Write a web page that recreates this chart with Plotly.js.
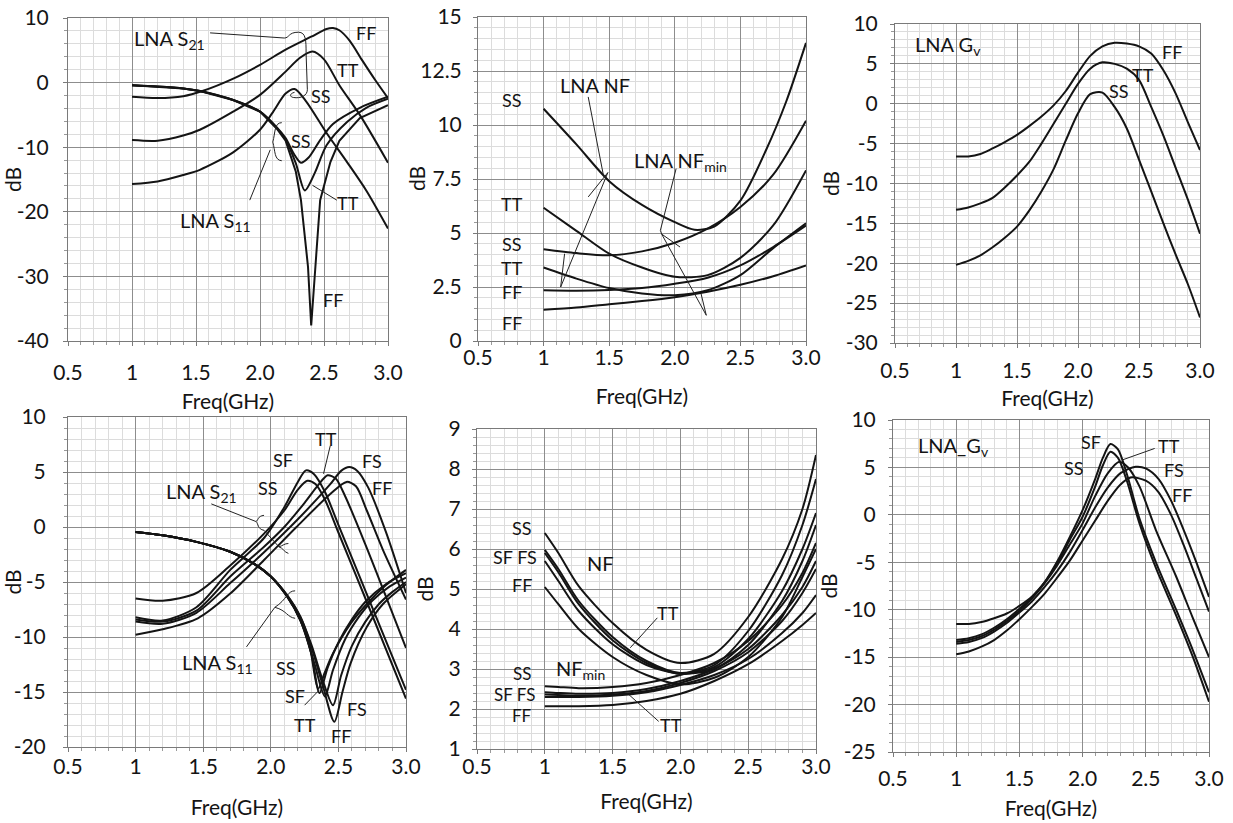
<!DOCTYPE html>
<html><head><meta charset="utf-8">
<script src="https://cdn.plot.ly/plotly-3.0.1.min.js"></script>
<style>html,body{margin:0;padding:0;background:#fff}#chart{width:1233px;height:823px}</style>
</head><body><div id="chart"></div>
<script>
// ---------- tick labels ----------
const xTickVals = [0.5, 1, 1.5, 2, 2.5, 3];
const xTickText = ['0.5', '1', '1.5', '2.0', '2.5', '3.0'];
const y1Ticks = [-40, -30, -20, -10, 0, 10];
const y1Text = ['-40', '-30', '-20', '-10', '0', '10'];
const y2Ticks = [0, 2.5, 5, 7.5, 10, 12.5, 15];
const y2Text = ['0', '2.5', '5', '7.5', '10', '12.5', '15'];
const y3Ticks = [-30, -25, -20, -15, -10, -5, 0, 5, 10];
const y3Text = ['-30', '-25', '-20', '-15', '-10', '-5', '0', '5', '10'];
const y4Ticks = [-20, -15, -10, -5, 0, 5, 10];
const y4Text = ['-20', '-15', '-10', '-5', '0', '5', '10'];
const y5Ticks = [1, 2, 3, 4, 5, 6, 7, 8, 9];
const y5Text = ['1', '2', '3', '4', '5', '6', '7', '8', '9'];
const y6Ticks = [-25, -20, -15, -10, -5, 0, 5, 10];
const y6Text = ['-25', '-20', '-15', '-10', '-5', '0', '5', '10'];

// ---------- panel 1 : LNA S21 / S11 (SS, TT, FF) ----------
const p1S21FF_f = [1.0, 1.2, 1.4, 1.55, 1.8, 2.0, 2.2, 2.4, 2.52, 2.57, 2.62, 2.7, 2.8, 2.9, 3.0];
const p1S21FF   = [-2.2, -2.4, -2.1, -1.3, 0.7, 2.75, 5.1, 7.1, 8.3, 8.45, 8.1, 6.5, 3.4, 0.4, -2.4];
const p1S21TT_f = [1.0, 1.2, 1.4, 1.53, 1.79, 2.0, 2.2, 2.31, 2.41, 2.5, 2.62, 2.78, 3.0];
const p1S21TT   = [-8.9, -9.0, -8.2, -7.3, -4.5, -1.9, 1.7, 3.8, 4.8, 3.6, -0.4, -5.0, -12.4];
const p1S21SS_f = [1.0, 1.2, 1.4, 1.53, 1.79, 2.0, 2.1, 2.2, 2.27, 2.36, 2.52, 2.68, 2.83, 3.0];
const p1S21SS   = [-15.7, -15.3, -14.3, -13.5, -10.8, -7.3, -4.6, -1.7, -1.0, -2.9, -7.8, -12.3, -16.7, -22.6];
const p1S11SS_f = [1.0, 1.2, 1.4, 1.53, 1.79, 2.0, 2.13, 2.2, 2.27, 2.32, 2.38, 2.47, 2.57, 2.78, 3.0];
const p1S11SS   = [-0.4, -0.6, -0.9, -1.3, -2.7, -4.5, -6.9, -8.6, -11.2, -12.4, -11.6, -8.9, -6.4, -3.9, -2.2];
const p1S11TT_f = [1.0, 1.2, 1.4, 1.53, 1.79, 2.0, 2.13, 2.2, 2.28, 2.35, 2.43, 2.52, 2.68, 2.83, 3.0];
const p1S11TT   = [-0.4, -0.6, -0.9, -1.3, -2.7, -4.5, -7.0, -8.8, -12.5, -16.7, -13.9, -9.7, -6.1, -3.9, -2.5];
const p1S11FF_f = [1.0, 1.2, 1.4, 1.53, 1.79, 2.0, 2.13, 2.2, 2.28, 2.32, 2.375, 2.4, 2.435, 2.47, 2.55, 2.62, 2.78, 3.0];
const p1S11FF   = [-0.4, -0.6, -0.9, -1.3, -2.7, -4.5, -7.1, -9.0, -13.8, -18.2, -28.5, -37.6, -28.5, -18.2, -12.3, -9.0, -5.5, -3.5];

// ---------- panel 2 : LNA NF / NFmin ----------
const p2F = [1.0, 1.25, 1.5, 1.75, 2.0, 2.25, 2.5, 2.75, 3.0];
const p2NFSS_f = [1.0, 1.25, 1.5, 1.75, 2.0, 2.15, 2.3, 2.5, 2.7, 2.85, 3.0];
const p2NFSS   = [10.75, 9.1, 7.4, 6.3, 5.5, 5.15, 5.3, 6.5, 8.9, 11.1, 13.8];
const p2NFTT     = [6.17, 5.1, 4.04, 3.4, 2.97, 3.05, 3.85, 5.35, 7.9];
const p2NFminSS  = [4.25, 4.07, 3.97, 4.15, 4.55, 5.2, 6.2, 7.7, 10.2];
const p2TTlow    = [3.4, 2.89, 2.45, 2.2, 2.12, 2.35, 3.05, 4.3, 5.45];
const p2FFhigh   = [2.35, 2.33, 2.36, 2.45, 2.65, 2.93, 3.5, 4.35, 5.35];
const p2FFlow    = [1.45, 1.55, 1.7, 1.85, 2.03, 2.28, 2.6, 3.0, 3.5];

// ---------- panel 3 : LNA Gv (SS, TT, FF) ----------
const p3F  = [1.0, 1.1, 1.2, 1.3, 1.4, 1.5, 1.6, 1.7, 1.8, 1.9, 2.0, 2.1, 2.2, 2.3, 2.4, 2.5, 2.6, 2.7, 2.8, 2.9, 3.0];
const p3FF = [-6.6, -6.6, -6.3, -5.6, -4.8, -3.9, -2.8, -1.6, -0.2, 1.6, 3.9, 6.0, 7.2, 7.65, 7.55, 7.2, 6.3, 4.2, 1.3, -2.3, -5.8];
const p3TT = [-13.3, -13.0, -12.5, -11.8, -10.5, -9.0, -7.3, -5.0, -2.5, 0.0, 2.5, 4.4, 5.2, 5.0, 4.4, 3.0, -0.4, -4.0, -8.0, -12.0, -16.3];
const p3SS = [-20.2, -19.7, -19.0, -18.0, -16.8, -15.4, -13.4, -11.0, -8.2, -4.6, -1.2, 1.2, 1.4, -0.4, -3.1, -7.0, -11.0, -15.0, -18.9, -22.6, -26.8];

// ---------- panel 4 : LNA S21 / S11 (five corners) ----------
const p4S21SS_f = [1.0, 1.2, 1.45, 1.7, 1.95, 2.1, 2.2, 2.27, 2.33, 2.4, 2.5, 2.7, 3.0];
const p4S21SS   = [-6.5, -6.7, -6.0, -3.5, -0.6, 1.5, 3.4, 4.2, 3.9, 2.5, -0.5, -6.5, -15.6];
const p4S21SF_f = [1.0, 1.2, 1.45, 1.7, 1.95, 2.1, 2.2, 2.26, 2.32, 2.4, 2.5, 2.7, 3.0];
const p4S21SF   = [-8.2, -8.5, -7.3, -3.9, -1.0, 1.8, 4.1, 5.15, 4.8, 3.2, 0.2, -5.8, -14.8];
const p4S21TT_f = [1.0, 1.2, 1.45, 1.7, 1.95, 2.1, 2.25, 2.35, 2.42, 2.48, 2.55, 2.7, 3.0];
const p4S21TT   = [-8.4, -8.6, -7.6, -4.5, -1.8, 0.0, 2.2, 3.8, 4.7, 4.4, 2.8, -1.6, -11.0];
const p4S21FS_f = [1.0, 1.2, 1.45, 1.7, 1.95, 2.2, 2.44, 2.52, 2.58, 2.64, 2.72, 2.85, 3.0];
const p4S21FS   = [-8.6, -8.8, -7.8, -5.1, -2.3, 0.7, 3.9, 5.1, 5.45, 5.1, 3.6, -0.4, -6.0];
const p4S21FF_f = [1.0, 1.2, 1.46, 1.7, 1.95, 2.19, 2.44, 2.56, 2.63, 2.71, 2.83, 3.0];
const p4S21FF   = [-9.8, -9.3, -8.3, -6.05, -3.0, 0.0, 3.0, 4.1, 3.7, 1.5, -2.1, -6.6];
const p4S11SS_f = [1.0, 1.2, 1.45, 1.7, 1.87, 2.0, 2.12, 2.22, 2.29, 2.35, 2.4, 2.46, 2.59, 2.71, 2.85, 3.0];
const p4S11SS   = [-0.45, -0.75, -1.35, -2.25, -3.3, -4.5, -6.3, -8.5, -11.0, -14.7, -13.2, -11.5, -8.8, -7.0, -5.3, -3.9];
const p4S11SF_f = [1.0, 1.2, 1.45, 1.7, 1.87, 2.0, 2.12, 2.22, 2.3, 2.36, 2.42, 2.5, 2.6, 2.7, 2.85, 3.0];
const p4S11SF   = [-0.45, -0.75, -1.35, -2.25, -3.3, -4.5, -6.3, -8.5, -11.5, -15.1, -12.8, -10.5, -8.4, -6.8, -5.2, -4.2];
const p4S11TT_f = [1.0, 1.2, 1.45, 1.7, 1.87, 2.0, 2.12, 2.22, 2.32, 2.4, 2.46, 2.55, 2.65, 2.75, 2.88, 3.0];
const p4S11TT   = [-0.45, -0.75, -1.35, -2.25, -3.3, -4.5, -6.3, -8.5, -12.3, -15.4, -13.0, -10.2, -8.2, -6.7, -5.4, -4.6];
const p4S11FS_f = [1.0, 1.2, 1.45, 1.7, 1.87, 2.0, 2.12, 2.22, 2.3, 2.38, 2.46, 2.52, 2.6, 2.7, 2.8, 2.9, 3.0];
const p4S11FS   = [-0.45, -0.75, -1.35, -2.25, -3.3, -4.5, -6.2, -8.2, -10.7, -13.8, -16.2, -13.5, -10.8, -8.6, -7.0, -5.9, -5.0];
const p4S11FF_f = [1.0, 1.2, 1.45, 1.7, 1.87, 2.0, 2.12, 2.22, 2.3, 2.38, 2.47, 2.53, 2.59, 2.71, 2.83, 3.0];
const p4S11FF   = [-0.45, -0.75, -1.35, -2.25, -3.3, -4.5, -6.2, -8.2, -10.9, -14.2, -17.7, -15.0, -12.4, -9.1, -7.0, -5.2];

// ---------- panel 5 : NF / NFmin (five corners) ----------
const p5F = [1.0, 1.1, 1.25, 1.5, 1.75, 2.0, 2.25, 2.5, 2.75, 2.9, 3.0];
const p5NFSS = [6.4, 5.9, 5.07, 4.15, 3.48, 3.15, 3.38, 4.3, 5.75, 7.0, 8.35];
const p5NFSF = [5.98, 5.5, 4.7, 3.8, 3.2, 2.9, 3.1, 3.95, 5.35, 6.6, 7.75];
const p5NFFS = [5.9, 5.42, 4.62, 3.72, 3.15, 2.88, 3.05, 3.75, 4.95, 6.0, 6.9];
const p5NFTT = [5.7, 5.2, 4.45, 3.62, 3.1, 2.88, 3.0, 3.6, 4.7, 5.7, 6.6];
const p5NFFF = [5.05, 4.62, 4.0, 3.3, 2.85, 2.62, 2.78, 3.3, 4.3, 5.3, 6.0];
const p5NminSS = [2.57, 2.55, 2.52, 2.55, 2.65, 2.85, 3.15, 3.7, 4.6, 5.4, 6.15];
const p5NminSF = [2.42, 2.4, 2.38, 2.4, 2.5, 2.7, 3.0, 3.5, 4.35, 5.05, 5.7];
const p5NminFS = [2.36, 2.35, 2.33, 2.36, 2.45, 2.65, 2.95, 3.42, 4.2, 4.9, 5.5];
const p5NminTT = [2.3, 2.3, 2.3, 2.33, 2.42, 2.6, 2.85, 3.25, 3.9, 4.4, 4.85];
const p5NminFF = [2.07, 2.07, 2.07, 2.1, 2.2, 2.38, 2.7, 3.12, 3.7, 4.1, 4.4];

// ---------- panel 6 : LNA_Gv (five corners) ----------
const p6SS_f = [1.0, 1.1, 1.2, 1.3, 1.4, 1.5, 1.6, 1.7, 1.8, 1.9, 2.0, 2.1, 2.16, 2.22, 2.28, 2.35, 2.45, 2.58, 2.74, 2.87, 3.0];
const p6SS   = [-11.5, -11.5, -11.3, -10.9, -10.4, -9.6, -8.6, -7.1, -5.1, -2.6, -0.2, 3.0, 5.2, 6.65, 6.0, 3.6, -0.9, -5.6, -10.6, -14.9, -19.7];
const p6SF   = [-13.2, -13.0, -12.6, -11.9, -11.0, -9.9, -8.7, -7.1, -4.9, -2.3, 0.5, 3.8, 6.0, 7.46, 6.9, 4.3, -0.4, -5.0, -10.0, -14.2, -18.7];
const p6TT_f = [1.0, 1.1, 1.2, 1.3, 1.4, 1.5, 1.6, 1.7, 1.8, 1.9, 2.0, 2.1, 2.2, 2.29, 2.36, 2.45, 2.58, 2.74, 2.87, 3.0];
const p6TT   = [-13.4, -13.2, -12.8, -12.1, -11.2, -10.1, -8.8, -7.2, -5.3, -3.1, -0.9, 2.0, 4.4, 5.6, 5.0, 3.0, -1.6, -6.5, -10.8, -15.0];
const p6FS_f = [1.0, 1.1, 1.2, 1.3, 1.4, 1.5, 1.6, 1.7, 1.8, 1.9, 2.0, 2.1, 2.2, 2.3, 2.42, 2.5, 2.6, 2.7, 2.8, 2.9, 3.0];
const p6FS   = [-13.6, -13.4, -13.0, -12.3, -11.4, -10.3, -9.1, -7.6, -5.9, -3.9, -1.6, 0.8, 2.9, 4.4, 5.07, 4.9, 3.8, 1.5, -1.6, -5.0, -8.65];
const p6FF_f = [1.0, 1.1, 1.2, 1.3, 1.4, 1.5, 1.6, 1.7, 1.8, 1.9, 2.0, 2.1, 2.2, 2.3, 2.38, 2.5, 2.6, 2.7, 2.8, 2.9, 3.0];
const p6FF   = [-14.7, -14.4, -13.9, -13.2, -12.2, -11.0, -9.7, -8.3, -6.6, -4.8, -2.7, -0.6, 1.5, 3.2, 3.94, 3.6, 2.4, 0.0, -3.2, -6.7, -10.2];

// ---------- building the figure ----------
const W = 1233, H = 823;
const FONT = 'Lato, "Open Sans", "DejaVu Sans", sans-serif';
const INK = '#141414';

function curve(x, y, n, shape) {
  return {type: 'scatter', mode: 'lines', x: x, y: y, xaxis: 'x' + (n > 1 ? n : ''), yaxis: 'y' + (n > 1 ? n : ''),
    line: {color: INK, width: 2, shape: shape || 'spline', smoothing: 0.8}, hoverinfo: 'skip', showlegend: false};
}

const traces = [
  curve(p1S21FF_f, p1S21FF, 1), curve(p1S21TT_f, p1S21TT, 1), curve(p1S21SS_f, p1S21SS, 1),
  curve(p1S11SS_f, p1S11SS, 1), curve(p1S11TT_f, p1S11TT, 1), curve(p1S11FF_f, p1S11FF, 1, 'linear'),
  curve(p2NFSS_f, p2NFSS, 2), curve(p2F, p2NFTT, 2), curve(p2F, p2NFminSS, 2),
  curve(p2F, p2TTlow, 2), curve(p2F, p2FFhigh, 2), curve(p2F, p2FFlow, 2),
  curve(p3F, p3FF, 3), curve(p3F, p3TT, 3), curve(p3F, p3SS, 3),
  curve(p4S21SS_f, p4S21SS, 4), curve(p4S21SF_f, p4S21SF, 4), curve(p4S21TT_f, p4S21TT, 4),
  curve(p4S21FS_f, p4S21FS, 4), curve(p4S21FF_f, p4S21FF, 4),
  curve(p4S11SS_f, p4S11SS, 4), curve(p4S11SF_f, p4S11SF, 4), curve(p4S11TT_f, p4S11TT, 4),
  curve(p4S11FS_f, p4S11FS, 4), curve(p4S11FF_f, p4S11FF, 4),
  curve(p5F, p5NFSS, 5), curve(p5F, p5NFSF, 5), curve(p5F, p5NFFS, 5), curve(p5F, p5NFTT, 5), curve(p5F, p5NFFF, 5),
  curve(p5F, p5NminSS, 5), curve(p5F, p5NminSF, 5), curve(p5F, p5NminFS, 5), curve(p5F, p5NminTT, 5), curve(p5F, p5NminFF, 5),
  curve(p6SS_f, p6SS, 6), curve(p6SS_f, p6SF, 6), curve(p6TT_f, p6TT, 6), curve(p6FS_f, p6FS, 6), curve(p6FF_f, p6FF, 6)
];

// panel boxes in pixels [left, right, top, bottom]
const boxes = [[68, 388, 18, 341], [478, 806, 17, 341], [895, 1200, 24, 343],
               [68, 406, 417, 747], [477, 816, 429, 749], [893, 1209, 420, 752]];
const yCfg = [
  {r: [-40, 10], tv: y1Ticks, tt: y1Text, minor: 2,   ls: 10, ts: 0, title: 'dB'},
  {r: [0, 15],   tv: y2Ticks, tt: y2Text, minor: 0.5, ls: 7,  ts: 0, title: ''},
  {r: [-30, 10], tv: y3Ticks, tt: y3Text, minor: 1,   ls: 8,  ts: 0, title: 'dB'},
  {r: [-20, 10], tv: y4Ticks, tt: y4Text, minor: 1,   ls: 13, ts: 0, title: 'dB'},
  {r: [1, 9],    tv: y5Ticks, tt: y5Text, minor: 0.2, ls: 7,  ts: 9, title: 'dB'},
  {r: [-25, 10], tv: y6Ticks, tt: y6Text, minor: 1,   ls: 8,  ts: 0, title: 'dB'}
];
const xCfg = [{ls: 9, ts: 11}, {ls: -6, ts: 21}, {ls: 5, ts: 10}, {ls: -3, ts: 23}, {ls: -5, ts: 17}, {ls: 4, ts: 12}];

const layout = {
  width: W, height: H, margin: {l: 0, r: 0, t: 0, b: 0, pad: 0},
  paper_bgcolor: '#ffffff', plot_bgcolor: '#ffffff', showlegend: false,
  font: {family: FONT, color: INK, size: 18}, annotations: [], shapes: []
};

boxes.forEach(function (b, i) {
  const n = i + 1, s = n > 1 ? n : '';
  const common = {
    showgrid: true, gridcolor: '#8d8d8d', gridwidth: 1, zeroline: false,
    showline: true, mirror: true, linecolor: '#7a7a7a', linewidth: 1,
    ticks: 'outside', ticklen: 4, tickcolor: '#7a7a7a', automargin: false, fixedrange: true,
    tickfont: {family: FONT, size: 21, color: INK}, tickmode: 'array'
  };
  layout['xaxis' + s] = Object.assign({}, common, {
    domain: [b[0] / W, b[1] / W], anchor: 'y' + s, range: [0.5, 3.0],
    tickvals: xTickVals, ticktext: xTickText, ticklabelstandoff: xCfg[i].ls,
    minor: {dtick: 0.1, tick0: 0, showgrid: true, gridcolor: '#dcdcdc', gridwidth: 1, ticks: 'outside', ticklen: 3, tickcolor: '#9a9a9a'},
    title: {text: 'Freq(GHz)', font: {family: FONT, size: 21, color: INK}, standoff: xCfg[i].ts}
  });
  const yc = yCfg[i];
  layout['yaxis' + s] = Object.assign({}, common, {
    domain: [1 - b[3] / H, 1 - b[2] / H], anchor: 'x' + s, range: yc.r,
    tickvals: yc.tv, ticktext: yc.tt, ticklabelstandoff: yc.ls,
    minor: {dtick: yc.minor, tick0: 0, showgrid: true, gridcolor: '#dcdcdc', gridwidth: 1, ticks: 'outside', ticklen: 3, tickcolor: '#9a9a9a'},
    title: {text: yc.title, font: {family: FONT, size: 21, color: INK}, standoff: yc.ts}
  });
});

// y title of panel 2 sits closer to its wide tick labels than the axis title allows
layout.annotations.push({xref: 'paper', yref: 'paper', x: 416 / W, y: 1 - 179 / H, text: 'dB', textangle: -90,
  showarrow: false, xanchor: 'center', yanchor: 'middle', font: {family: FONT, size: 21, color: INK}});

// text labels: [panel, x, y, text, size, xanchor]
const labels = [
  [1, 1.0, 6.6, 'LNA S<sub>21</sub>', 20, 'left'], [1, 2.83, 7.7, 'FF', 18, 'center'],
  [1, 2.69, 2.0, 'TT', 18, 'center'], [1, 2.48, -2.0, 'SS', 18, 'center'],
  [1, 2.32, -9.1, 'SS', 18, 'center'], [1, 2.69, -18.7, 'TT', 18, 'center'],
  [1, 2.57, -33.7, 'FF', 18, 'center'], [1, 1.65, -21.5, 'LNA S<sub>11</sub>', 20, 'center'],
  [2, 1.39, 11.84, 'LNA NF', 20, 'center'], [2, 1.67, 8.29, 'LNA NF<sub>min</sub>', 20, 'left'],
  [2, 0.76, 11.14, 'SS', 18, 'center'], [2, 0.76, 6.33, 'TT', 18, 'center'],
  [2, 0.76, 4.48, 'SS', 18, 'center'], [2, 0.76, 3.4, 'TT', 18, 'center'],
  [2, 0.76, 2.27, 'FF', 18, 'center'], [2, 0.76, 0.83, 'FF', 18, 'center'],
  [3, 0.65, 7.36, 'LNA G<sub>v</sub>', 20, 'left'], [3, 2.77, 6.44, 'FF', 18, 'center'],
  [3, 2.53, 3.6, 'TT', 18, 'center'], [3, 2.34, 1.63, 'SS', 18, 'center'],
  [4, 1.207, 3.18, 'LNA S<sub>21</sub>', 20, 'left'], [4, 1.33, -12.4, 'LNA S<sub>11</sub>', 20, 'left'],
  [4, 2.09, 6.1, 'SF', 18, 'center'], [4, 1.98, 3.57, 'SS', 18, 'center'],
  [4, 2.41, 8.0, 'TT', 18, 'center'], [4, 2.75, 6.0, 'FS', 18, 'center'],
  [4, 2.82, 3.5, 'FF', 18, 'center'], [4, 2.11, -12.85, 'SS', 18, 'center'],
  [4, 2.18, -15.4, 'SF', 18, 'center'], [4, 2.25, -18.0, 'TT', 18, 'center'],
  [4, 2.64, -16.5, 'FS', 18, 'center'], [4, 2.52, -19.0, 'FF', 18, 'center'],
  [5, 0.83, 6.53, 'SS', 18, 'center'], [5, 0.78, 5.79, 'SF FS', 18, 'center'],
  [5, 0.83, 5.1, 'FF', 18, 'center'], [5, 1.41, 5.65, 'NF', 20, 'center'],
  [5, 1.905, 4.4, 'TT', 18, 'center'], [5, 1.065, 2.98, 'NF<sub>min</sub>', 20, 'left'],
  [5, 0.83, 2.88, 'SS', 17, 'center'], [5, 0.78, 2.36, 'SF FS', 17, 'center'],
  [5, 0.83, 1.84, 'FF', 17, 'center'], [5, 1.93, 1.6, 'TT', 18, 'center'],
  [6, 0.68, 7.18, 'LNA_G<sub>v</sub>', 20, 'left'], [6, 2.07, 7.7, 'SF', 18, 'center'],
  [6, 1.93, 4.9, 'SS', 18, 'center'], [6, 2.68, 7.25, 'TT', 18, 'center'],
  [6, 2.72, 4.71, 'FS', 18, 'center'], [6, 2.79, 2.08, 'FF', 18, 'center']
];
labels.forEach(function (l) {
  const s = l[0] > 1 ? l[0] : '';
  layout.annotations.push({xref: 'x' + s, yref: 'y' + s, x: l[1], y: l[2], text: l[3], showarrow: false,
    xanchor: l[5], yanchor: 'middle', font: {family: FONT, size: l[4], color: INK}});
});

// leader lines / braces: [panel, svg path in data units]
const leaders = [
  [1, 'M1.61,7.7 L2.19,6.9 C2.23,6.9 2.22,7.8 2.3,7.8 C2.36,7.8 2.36,6.5 2.36,4.5 L2.37,-1.1 C2.37,-2.0 2.32,-2.5 2.26,-2.3 C2.23,-2.2 2.23,-1.7 2.27,-1.5'],
  [1, 'M1.92,-18.2 L2.08,-10.4'],
  [1, 'M2.17,-6.2 C2.11,-6.2 2.12,-7.8 2.1,-9.2 C2.12,-10.6 2.11,-12.0 2.17,-12.1'],
  [1, 'M2.41,-15.9 L2.6,-18.2'],
  [2, 'M1.34,11.3 L1.455,7.7'],
  [2, 'M1.34,6.67 L1.49,7.8 L1.13,2.5 L1.16,4.04'],
  [2, 'M2.01,7.98 L1.89,5.12 L1.9,4.95 L2.04,4.35 M1.9,4.95 L2.24,1.19 L2.2,2.19'],
  [4, 'M1.56,2.1 L1.89,0.5 M1.95,1.06 C1.9,1.0 1.91,0.6 1.89,0.5 C1.91,0.3 1.9,-0.2 1.95,-0.3 L2.06,-1.8 C2.09,-1.9 2.1,-2.3 2.13,-2.4 M2.06,-1.8 C2.09,-1.7 2.1,-1.5 2.13,-1.5'],
  [4, 'M1.82,-10.9 L2.03,-7.3 M2.18,-5.8 C2.12,-5.8 2.12,-6.6 2.03,-7.3 C2.12,-7.6 2.12,-8.2 2.18,-8.3'],
  [4, 'M2.44,7.4 L2.39,4.84'],
  [4, 'M2.25,-16.2 L2.36,-14.8'],
  [5, 'M1.83,4.28 L1.63,3.53'],
  [5, 'M1.84,1.69 L1.62,2.36'],
  [6, 'M2.57,7.0 L2.31,5.77']
];
leaders.forEach(function (p) {
  const s = p[0] > 1 ? p[0] : '';
  layout.shapes.push({type: 'path', xref: 'x' + s, yref: 'y' + s, path: p[1], line: {color: '#222', width: 1}, layer: 'above'});
});

Plotly.newPlot('chart', traces, layout, {staticPlot: true, displayModeBar: false});
</script></body></html>
